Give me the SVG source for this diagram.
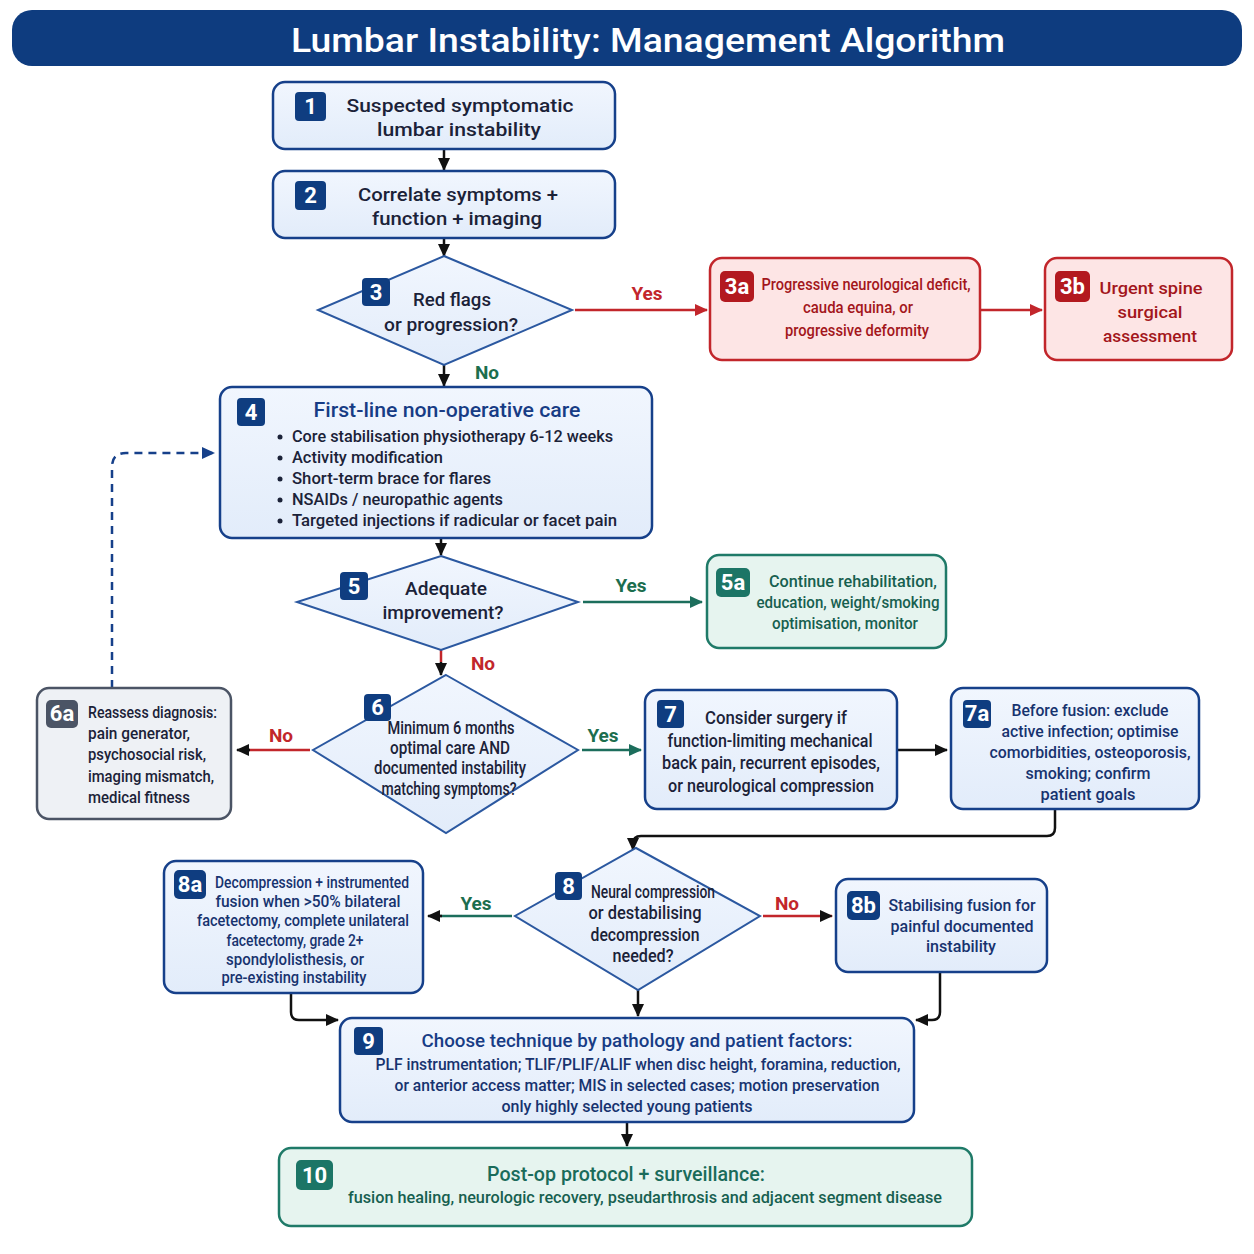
<svg xmlns="http://www.w3.org/2000/svg" width="1254" height="1254" viewBox="0 0 1254 1254">
<defs>
<marker id="ak" markerWidth="14" markerHeight="14" refX="12" refY="7" orient="auto" markerUnits="userSpaceOnUse"><path d="M0,1 L13,7 L0,13 z" fill="#111"/></marker>
<marker id="ar" markerWidth="14" markerHeight="14" refX="12" refY="7" orient="auto" markerUnits="userSpaceOnUse"><path d="M0,1 L13,7 L0,13 z" fill="#c2262b"/></marker>
<marker id="ag" markerWidth="14" markerHeight="14" refX="12" refY="7" orient="auto" markerUnits="userSpaceOnUse"><path d="M0,1 L13,7 L0,13 z" fill="#1c6e5c"/></marker>
<marker id="an" markerWidth="14" markerHeight="14" refX="12" refY="7" orient="auto" markerUnits="userSpaceOnUse"><path d="M0,1 L13,7 L0,13 z" fill="#16408a"/></marker>
<linearGradient id="gb" x1="0" y1="0" x2="0" y2="1"><stop offset="0" stop-color="#f1f6fe"/><stop offset="1" stop-color="#e2ecfa"/></linearGradient>
</defs>
<style>
text{font-family:Roboto,"Liberation Sans",sans-serif;font-weight:500;}
.bx{fill:url(#gb);stroke:#16408a;stroke-width:2.5;}
.rb{fill:#fde5e5;stroke:#c2262b;stroke-width:2.5;}
.gbx{fill:#e6f4ef;stroke:#1f7a68;stroke-width:2.5;}
.gy{fill:#eef1f5;stroke:#4b5465;stroke-width:2.5;}
.dm{fill:url(#gb);stroke:#2b58a0;stroke-width:2;}
.bd{fill:#0f3d80;}
.bdr{fill:#b3191f;}
.bdg{fill:#1c7566;}
.bdy{fill:#4b5465;}
.bt{fill:#fff;font-weight:700;font-size:22px;text-anchor:middle;}
.t{fill:#1b2238;font-size:18px;text-anchor:middle;}
.tn{fill:#17336f;font-size:16px;text-anchor:middle;}
.tr{fill:#a3161b;font-size:16px;text-anchor:middle;}
.tg{fill:#17604f;font-size:16px;text-anchor:middle;}
.ts{fill:#1b2238;font-size:16px;}
.lr{fill:#c2262b;font-weight:700;font-size:19px;text-anchor:middle;}
.lg{fill:#1c6e4e;font-weight:700;font-size:19px;text-anchor:middle;}
.c{fill:none;stroke:#111;stroke-width:2.5;}
.cr{fill:none;stroke:#c2262b;stroke-width:2.5;}
.cg{fill:none;stroke:#1c6e5c;stroke-width:2.5;}
</style>

<g id="title">
<rect x="12" y="10" width="1230" height="56" rx="20" fill="#0e3c7f"/>
<text x="648" y="52" fill="#fff" font-size="34" font-weight="700" text-anchor="middle" textLength="714" lengthAdjust="spacingAndGlyphs">Lumbar Instability: Management Algorithm</text>
</g>

<g id="connectors">
<path class="c" d="M444,149 L444,170" marker-end="url(#ak)"/>
<path class="c" d="M444,238 L444,256" marker-end="url(#ak)"/>
<path class="cr" d="M575,310 L707,310" marker-end="url(#ar)"/>
<path class="cr" d="M980,310 L1042,310" marker-end="url(#ar)"/>
<path class="c" d="M444,365 L444,386" marker-end="url(#ak)"/>
<path fill="none" stroke="#16408a" stroke-width="2.5" stroke-dasharray="8 6" d="M112,688 L112,467 Q112,453 126,453 L214,453" marker-end="url(#an)"/>
<path class="c" d="M441,538 L441,555" marker-end="url(#ak)"/>
<path class="cg" d="M583,602 L702,602" marker-end="url(#ag)"/>
<path class="cr" d="M441,650 L441,662"/>
<path class="c" d="M441,662 L441,675" marker-end="url(#ak)"/>
<path class="cr" d="M310,750 L248,750"/>
<path class="c" d="M250,750 L237,750" marker-end="url(#ak)"/>
<path class="cg" d="M582,750 L641,750" marker-end="url(#ag)"/>
<path class="c" d="M897,750 L947,750" marker-end="url(#ak)"/>
<path class="c" d="M1055,809 L1055,828 Q1055,836 1047,836 L641,836 Q633,836 633,844 L633,850" marker-end="url(#ak)"/>
<path class="cg" d="M512,916 L440,916"/>
<path class="c" d="M442,916 L428,916" marker-end="url(#ak)"/>
<path class="cr" d="M763,916 L832,916" marker-end="url(#ak)"/>
<path class="c" d="M291,993 L291,1012 Q291,1020 299,1020 L338,1020" marker-end="url(#ak)"/>
<path class="c" d="M638,990 L638,1016" marker-end="url(#ak)"/>
<path class="c" d="M940,972 L940,1012 Q940,1020 932,1020 L916,1020" marker-end="url(#ak)"/>
<path class="c" d="M627,1122 L627,1146" marker-end="url(#ak)"/>
<text class="lr" x="647" y="300">Yes</text>
<text class="lg" x="487" y="379">No</text>
<text class="lg" x="631" y="592">Yes</text>
<text class="lr" x="483" y="670">No</text>
<text class="lr" x="281" y="742">No</text>
<text class="lg" x="603" y="742">Yes</text>
<text class="lg" x="476" y="910">Yes</text>
<text class="lr" x="787" y="910">No</text>
</g>

<g id="n1">
<rect class="bx" x="273" y="82" width="342" height="67" rx="12"/>
<rect class="bd" x="295" y="92" width="31" height="29" rx="4"/>
<text class="bt" x="310.5" y="114">1</text>
<text class="t" x="460" y="112" textLength="227" lengthAdjust="spacingAndGlyphs">Suspected symptomatic</text>
<text class="t" x="459" y="136" textLength="164" lengthAdjust="spacingAndGlyphs">lumbar instability</text>
</g>

<g id="n2">
<rect class="bx" x="273" y="171" width="342" height="67" rx="12"/>
<rect class="bd" x="295" y="181" width="31" height="29" rx="4"/>
<text class="bt" x="310.5" y="203">2</text>
<text class="t" x="458" y="201" textLength="200" lengthAdjust="spacingAndGlyphs">Correlate symptoms +</text>
<text class="t" x="457" y="225" textLength="170" lengthAdjust="spacingAndGlyphs">function + imaging</text>
</g>

<g id="n3">
<polygon class="dm" points="444,256 572,310 444,365 318,310"/>
<rect class="bd" x="362" y="278" width="28" height="28" rx="4"/>
<text class="bt" x="376" y="300">3</text>
<text class="t" x="452" y="306" textLength="78" lengthAdjust="spacingAndGlyphs">Red flags</text>
<text class="t" x="451" y="331" textLength="134" lengthAdjust="spacingAndGlyphs">or progression?</text>
</g>

<g id="n3a">
<rect class="rb" x="710" y="258" width="270" height="102" rx="12"/>
<rect class="bdr" x="720" y="271" width="34" height="31" rx="5"/>
<text class="bt" x="737" y="294">3a</text>
<text class="tr" x="866" y="290" textLength="209" lengthAdjust="spacingAndGlyphs">Progressive neurological deficit,</text>
<text class="tr" x="858" y="313" textLength="110" lengthAdjust="spacingAndGlyphs">cauda equina, or</text>
<text class="tr" x="857" y="336" textLength="144" lengthAdjust="spacingAndGlyphs">progressive deformity</text>
</g>

<g id="n3b">
<rect class="rb" x="1045" y="258" width="187" height="102" rx="12"/>
<rect class="bdr" x="1055" y="271" width="35" height="31" rx="5"/>
<text class="bt" x="1072.5" y="294">3b</text>
<text class="tr" x="1151" y="294" font-size="18" textLength="103" lengthAdjust="spacingAndGlyphs">Urgent spine</text>
<text class="tr" x="1150" y="318" font-size="18" textLength="65" lengthAdjust="spacingAndGlyphs">surgical</text>
<text class="tr" x="1150" y="342" font-size="18" textLength="94" lengthAdjust="spacingAndGlyphs">assessment</text>
</g>

<g id="n4">
<rect class="bx" x="220" y="387" width="432" height="151" rx="12"/>
<rect class="bd" x="237" y="398" width="28" height="28" rx="4"/>
<text class="bt" x="251" y="420">4</text>
<text x="447" y="417" fill="#173c85" font-size="20" font-weight="700" text-anchor="middle" textLength="267" lengthAdjust="spacingAndGlyphs">First-line non-operative care</text>
<g fill="#1b2238"><circle cx="280" cy="437" r="2.5"/><circle cx="280" cy="458" r="2.5"/><circle cx="280" cy="479" r="2.5"/><circle cx="280" cy="500" r="2.5"/><circle cx="280" cy="521" r="2.5"/></g>
<text class="ts" x="292" y="442" textLength="321" lengthAdjust="spacingAndGlyphs">Core stabilisation physiotherapy 6-12 weeks</text>
<text class="ts" x="292" y="463" textLength="151" lengthAdjust="spacingAndGlyphs">Activity modification</text>
<text class="ts" x="292" y="484" textLength="199" lengthAdjust="spacingAndGlyphs">Short-term brace for flares</text>
<text class="ts" x="292" y="505" textLength="211" lengthAdjust="spacingAndGlyphs">NSAIDs / neuropathic agents</text>
<text class="ts" x="292" y="526" textLength="325" lengthAdjust="spacingAndGlyphs">Targeted injections if radicular or facet pain</text>
</g>

<g id="n5">
<polygon class="dm" points="441,556 578,602 441,650 297,602"/>
<rect class="bd" x="340" y="572" width="28" height="28" rx="4"/>
<text class="bt" x="354" y="594">5</text>
<text class="t" x="446" y="595" textLength="82" lengthAdjust="spacingAndGlyphs">Adequate</text>
<text class="t" x="443" y="619" textLength="121" lengthAdjust="spacingAndGlyphs">improvement?</text>
</g>

<g id="n5a">
<rect class="gbx" x="707" y="555" width="239" height="93" rx="12"/>
<rect class="bdg" x="716" y="568" width="34" height="29" rx="5"/>
<text class="bt" x="733" y="590">5a</text>
<text class="tg" x="853" y="587" textLength="168" lengthAdjust="spacingAndGlyphs">Continue rehabilitation,</text>
<text class="tg" x="848" y="608" textLength="183" lengthAdjust="spacingAndGlyphs">education, weight/smoking</text>
<text class="tg" x="845" y="629" textLength="146" lengthAdjust="spacingAndGlyphs">optimisation, monitor</text>
</g>

<g id="n6">
<polygon class="dm" points="446,675 578,750 446,833 313,750"/>
<rect class="bd" x="364" y="694" width="27" height="27" rx="4"/>
<text class="bt" x="377.5" y="715">6</text>
<text class="t" x="451" y="734" font-size="16" textLength="127" lengthAdjust="spacingAndGlyphs">Minimum 6 months</text>
<text class="t" x="450" y="754" font-size="16" textLength="120" lengthAdjust="spacingAndGlyphs">optimal care AND</text>
<text class="t" x="450" y="774" font-size="16" textLength="152" lengthAdjust="spacingAndGlyphs">documented instability</text>
<text class="t" x="449" y="795" font-size="16" textLength="135" lengthAdjust="spacingAndGlyphs">matching symptoms?</text>
</g>

<g id="n6a">
<rect class="gy" x="37" y="688" width="194" height="131" rx="12"/>
<rect class="bdy" x="46" y="700" width="32" height="28" rx="5"/>
<text class="bt" x="62" y="721">6a</text>
<text class="ts" x="88" y="718" textLength="129" lengthAdjust="spacingAndGlyphs">Reassess diagnosis:</text>
<text class="ts" x="88" y="739" textLength="102" lengthAdjust="spacingAndGlyphs">pain generator,</text>
<text class="ts" x="88" y="760" textLength="118" lengthAdjust="spacingAndGlyphs">psychosocial risk,</text>
<text class="ts" x="88" y="782" textLength="126" lengthAdjust="spacingAndGlyphs">imaging mismatch,</text>
<text class="ts" x="88" y="803" textLength="102" lengthAdjust="spacingAndGlyphs">medical fitness</text>
</g>

<g id="n7">
<rect class="bx" x="645" y="690" width="252" height="119" rx="12"/>
<rect class="bd" x="657" y="700" width="27" height="28" rx="4"/>
<text class="bt" x="670.5" y="722">7</text>
<text class="t" x="776" y="724" font-size="17" textLength="142" lengthAdjust="spacingAndGlyphs">Consider surgery if</text>
<text class="t" x="770" y="747" font-size="17" textLength="205" lengthAdjust="spacingAndGlyphs">function-limiting mechanical</text>
<text class="t" x="771" y="769" font-size="17" textLength="218" lengthAdjust="spacingAndGlyphs">back pain, recurrent episodes,</text>
<text class="t" x="771" y="792" font-size="17" textLength="206" lengthAdjust="spacingAndGlyphs">or neurological compression</text>
</g>

<g id="n7a">
<rect class="bx" x="951" y="688" width="248" height="121" rx="12"/>
<rect class="bd" x="963" y="700" width="28" height="28" rx="4"/>
<text class="bt" x="977" y="721">7a</text>
<text class="tn" x="1090" y="716" textLength="157" lengthAdjust="spacingAndGlyphs">Before fusion: exclude</text>
<text class="tn" x="1090" y="737" textLength="177" lengthAdjust="spacingAndGlyphs">active infection; optimise</text>
<text class="tn" x="1090" y="758" textLength="201" lengthAdjust="spacingAndGlyphs">comorbidities, osteoporosis,</text>
<text class="tn" x="1088" y="779" textLength="125" lengthAdjust="spacingAndGlyphs">smoking; confirm</text>
<text class="tn" x="1088" y="800" textLength="95" lengthAdjust="spacingAndGlyphs">patient goals</text>
</g>

<g id="n8">
<polygon class="dm" points="636,848 760,916 638,990 515,916"/>
<rect class="bd" x="555" y="872" width="27" height="28" rx="4"/>
<text class="bt" x="568.5" y="894">8</text>
<text class="t" x="653" y="898" font-size="16" textLength="124" lengthAdjust="spacingAndGlyphs">Neural compression</text>
<text class="t" x="645" y="919" font-size="16" textLength="113" lengthAdjust="spacingAndGlyphs">or destabilising</text>
<text class="t" x="645" y="941" font-size="16" textLength="109" lengthAdjust="spacingAndGlyphs">decompression</text>
<text class="t" x="643" y="962" font-size="16" textLength="61" lengthAdjust="spacingAndGlyphs">needed?</text>
</g>

<g id="n8a">
<rect class="bx" x="164" y="861" width="259" height="132" rx="12"/>
<rect class="bd" x="174" y="870" width="32" height="29" rx="5"/>
<text class="bt" x="190" y="892">8a</text>
<text class="tn" x="312" y="888" font-size="15" textLength="194" lengthAdjust="spacingAndGlyphs">Decompression + instrumented</text>
<text class="tn" x="308" y="907" font-size="15" textLength="185" lengthAdjust="spacingAndGlyphs">fusion when &gt;50% bilateral</text>
<text class="tn" x="303" y="926" font-size="15" textLength="212" lengthAdjust="spacingAndGlyphs">facetectomy, complete unilateral</text>
<text class="tn" x="295" y="946" font-size="15" textLength="137" lengthAdjust="spacingAndGlyphs">facetectomy, grade 2+</text>
<text class="tn" x="295" y="965" font-size="15" textLength="138" lengthAdjust="spacingAndGlyphs">spondylolisthesis, or</text>
<text class="tn" x="294" y="983" font-size="15" textLength="145" lengthAdjust="spacingAndGlyphs">pre-existing instability</text>
</g>

<g id="n8b">
<rect class="bx" x="836" y="879" width="211" height="93" rx="12"/>
<rect class="bd" x="847" y="891" width="33" height="29" rx="5"/>
<text class="bt" x="863.5" y="913">8b</text>
<text class="tn" x="962" y="911" textLength="147" lengthAdjust="spacingAndGlyphs">Stabilising fusion for</text>
<text class="tn" x="962" y="932" textLength="143" lengthAdjust="spacingAndGlyphs">painful documented</text>
<text class="tn" x="961" y="952" textLength="70" lengthAdjust="spacingAndGlyphs">instability</text>
</g>

<g id="n9">
<rect class="bx" x="340" y="1018" width="574" height="104" rx="12"/>
<rect class="bd" x="354" y="1027" width="29" height="28" rx="4"/>
<text class="bt" x="368.5" y="1049">9</text>
<text x="637" y="1047" fill="#173c85" font-size="19" text-anchor="middle" textLength="431" lengthAdjust="spacingAndGlyphs">Choose technique by pathology and patient factors:</text>
<text class="tn" x="638" y="1070" textLength="525" lengthAdjust="spacingAndGlyphs">PLF instrumentation; TLIF/PLIF/ALIF when disc height, foramina, reduction,</text>
<text class="tn" x="637" y="1091" textLength="485" lengthAdjust="spacingAndGlyphs">or anterior access matter; MIS in selected cases; motion preservation</text>
<text class="tn" x="627" y="1112" textLength="251" lengthAdjust="spacingAndGlyphs">only highly selected young patients</text>
</g>

<g id="n10">
<rect class="gbx" x="279" y="1148" width="693" height="78" rx="12"/>
<rect class="bdg" x="296" y="1160" width="37" height="30" rx="5"/>
<text class="bt" x="314.5" y="1183">10</text>
<text x="626" y="1181" fill="#1a6b5a" font-size="20" text-anchor="middle" textLength="278" lengthAdjust="spacingAndGlyphs">Post-op protocol + surveillance:</text>
<text class="tg" x="645" y="1203" textLength="594" lengthAdjust="spacingAndGlyphs">fusion healing, neurologic recovery, pseudarthrosis and adjacent segment disease</text>
</g>
</svg>
